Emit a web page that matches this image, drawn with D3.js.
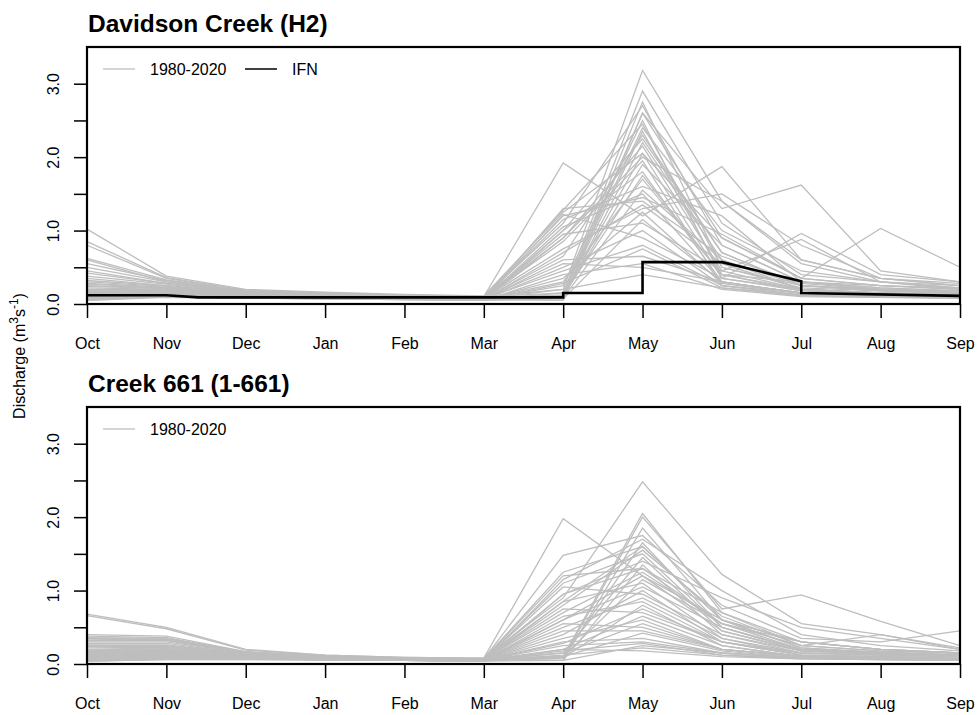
<!DOCTYPE html>
<html>
<head>
<meta charset="utf-8">
<script src="https://cdn.jsdelivr.net/npm/d3@7"></script>
<style>
  html, body { margin: 0; padding: 0; background: #ffffff; }
  svg { display: block; font-family: "Liberation Sans", Arial, sans-serif; }
</style>
</head>
<body>
<svg id="chart" width="979" height="715"></svg>
<script>
// Water-year months (Oct to Sep)
const months = ["Oct","Nov","Dec","Jan","Feb","Mar","Apr","May","Jun","Jul","Aug","Sep"];
const yTicks = [0, 0.5, 1, 1.5, 2, 2.5, 3];

// Davidson Creek (H2): monthly mean discharge, one row per water year 1980-2020
const davidsonFlows = [
  [1.02,0.38,0.20,0.16,0.13,0.11,1.25,2.05,0.90,0.35,0.25,0.22],
  [0.85,0.36,0.19,0.15,0.12,0.10,0.20,3.18,1.40,0.55,0.30,0.25],
  [0.80,0.35,0.18,0.14,0.12,0.10,1.92,1.20,1.87,0.60,0.35,0.28],
  [0.62,0.33,0.18,0.14,0.12,0.10,0.15,2.90,1.10,0.40,0.30,0.22],
  [0.60,0.30,0.17,0.14,0.12,0.10,1.10,2.70,0.80,0.30,0.20,0.18],
  [0.55,0.32,0.17,0.13,0.11,0.09,0.12,2.60,1.30,1.62,0.45,0.30],
  [0.50,0.30,0.16,0.13,0.11,0.09,1.28,2.45,0.50,0.25,0.18,0.15],
  [0.45,0.28,0.16,0.13,0.11,0.09,0.10,2.35,0.40,0.30,0.25,0.20],
  [0.42,0.28,0.15,0.12,0.10,0.09,1.20,1.45,0.95,0.35,1.03,0.50],
  [0.38,0.27,0.15,0.12,0.10,0.09,0.08,2.20,0.60,0.20,0.15,0.12],
  [0.35,0.25,0.15,0.12,0.10,0.08,1.00,1.80,0.30,0.15,0.12,0.10],
  [0.32,0.25,0.14,0.12,0.10,0.08,0.90,2.15,0.45,0.20,0.15,0.13],
  [0.30,0.24,0.14,0.12,0.10,0.08,0.10,2.05,0.35,0.96,0.40,0.30],
  [0.28,0.23,0.14,0.11,0.10,0.08,1.15,1.60,1.20,0.30,0.22,0.18],
  [0.27,0.22,0.13,0.11,0.10,0.08,0.85,1.95,0.25,0.15,0.12,0.10],
  [0.25,0.22,0.13,0.11,0.09,0.08,0.12,2.75,0.50,0.22,0.18,0.15],
  [0.24,0.21,0.13,0.11,0.09,0.08,0.75,1.30,1.50,0.80,0.35,0.25],
  [0.22,0.20,0.13,0.11,0.09,0.07,0.65,2.30,0.70,0.25,0.20,0.16],
  [0.20,0.20,0.12,0.10,0.09,0.07,0.30,1.70,0.40,0.18,0.14,0.12],
  [0.19,0.19,0.12,0.10,0.09,0.07,0.55,0.50,0.30,0.15,0.12,0.10],
  [0.18,0.18,0.12,0.10,0.09,0.07,0.95,1.10,0.45,0.88,0.30,0.20],
  [0.17,0.18,0.12,0.10,0.08,0.07,0.25,2.50,0.35,0.20,0.15,0.12],
  [0.16,0.17,0.12,0.10,0.08,0.07,0.45,0.80,0.25,0.12,0.10,0.08],
  [0.15,0.17,0.11,0.10,0.08,0.07,1.05,1.50,0.30,0.15,0.12,0.10],
  [0.14,0.16,0.11,0.10,0.08,0.07,0.10,1.90,0.80,0.30,0.22,0.18],
  [0.13,0.15,0.11,0.09,0.08,0.07,0.20,0.40,0.22,0.12,0.10,0.08],
  [0.12,0.15,0.11,0.09,0.08,0.06,0.70,1.35,0.55,0.20,0.15,0.12],
  [0.12,0.14,0.10,0.09,0.08,0.06,0.05,2.60,0.90,0.35,0.25,0.20],
  [0.11,0.14,0.10,0.09,0.08,0.06,1.22,0.90,0.35,0.18,0.14,0.11],
  [0.10,0.13,0.10,0.09,0.07,0.06,0.35,1.25,0.28,0.14,0.12,0.10],
  [0.10,0.13,0.10,0.09,0.07,0.06,0.08,1.55,0.60,0.25,0.20,0.15],
  [0.09,0.12,0.10,0.08,0.07,0.06,0.60,0.65,0.30,0.15,0.12,0.10],
  [0.09,0.12,0.10,0.08,0.07,0.06,0.15,2.40,1.00,0.45,0.30,0.22],
  [0.08,0.12,0.09,0.08,0.07,0.06,0.50,1.00,0.25,0.12,0.10,0.09],
  [0.08,0.11,0.09,0.08,0.07,0.06,1.30,1.40,0.65,0.28,0.20,0.15],
  [0.07,0.11,0.09,0.08,0.07,0.06,0.12,1.75,0.40,0.20,0.15,0.12],
  [0.07,0.10,0.09,0.08,0.07,0.05,0.40,0.55,0.20,0.10,0.09,0.08],
  [0.06,0.10,0.09,0.08,0.07,0.05,0.90,2.00,1.40,0.60,0.35,0.25],
  [0.06,0.10,0.08,0.07,0.06,0.05,0.07,1.15,0.30,0.15,0.12,0.10],
  [0.05,0.10,0.08,0.07,0.06,0.05,0.28,0.75,0.22,0.11,0.09,0.08],
  [0.05,0.09,0.08,0.07,0.06,0.05,1.00,2.25,0.70,0.25,0.18,0.14]
];

// Instream flow needs for Davidson Creek (position along the month axis, flow)
const ifnPos  = [0,    1,    1.4,  5,    6,    6,    7,    7,    8,    9,    9,    11];
const ifnFlow = [0.12, 0.12, 0.09, 0.09, 0.09, 0.15, 0.15, 0.57, 0.57, 0.31, 0.15, 0.11];

// Creek 661 (1-661): monthly mean discharge, one row per water year 1980-2020
const creek661Flows = [
  [0.68,0.50,0.20,0.12,0.09,0.08,1.98,1.20,0.60,0.30,0.20,0.15],
  [0.66,0.48,0.19,0.12,0.09,0.08,0.90,2.48,1.22,0.55,0.40,0.20],
  [0.40,0.38,0.17,0.11,0.08,0.07,1.48,1.75,0.80,0.35,0.30,0.45],
  [0.38,0.36,0.16,0.11,0.08,0.07,0.10,2.05,0.70,0.25,0.18,0.15],
  [0.36,0.35,0.16,0.11,0.08,0.07,1.25,1.60,0.60,0.30,0.20,0.15],
  [0.35,0.34,0.16,0.10,0.08,0.07,0.08,2.00,0.75,0.94,0.58,0.25],
  [0.34,0.33,0.15,0.10,0.08,0.07,1.20,1.30,0.55,0.25,0.18,0.14],
  [0.32,0.32,0.15,0.10,0.08,0.07,1.10,1.50,0.50,0.20,0.16,0.12],
  [0.30,0.30,0.15,0.10,0.08,0.07,0.05,1.85,0.60,0.22,0.15,0.12],
  [0.28,0.28,0.14,0.10,0.08,0.06,1.05,0.95,0.40,0.18,0.14,0.12],
  [0.26,0.26,0.14,0.10,0.08,0.06,0.95,1.40,0.90,0.50,0.35,0.20],
  [0.25,0.25,0.14,0.10,0.07,0.06,0.10,1.65,0.50,0.20,0.15,0.12],
  [0.24,0.24,0.13,0.10,0.07,0.06,0.85,1.10,0.35,0.15,0.12,0.10],
  [0.22,0.23,0.13,0.09,0.07,0.06,0.80,1.55,0.65,0.25,0.40,0.22],
  [0.20,0.22,0.13,0.09,0.07,0.06,0.15,1.45,0.45,0.18,0.14,0.10],
  [0.19,0.21,0.12,0.09,0.07,0.06,0.75,0.70,0.30,0.15,0.12,0.10],
  [0.18,0.20,0.12,0.09,0.07,0.06,0.70,1.25,0.55,0.20,0.15,0.12],
  [0.17,0.19,0.12,0.09,0.07,0.06,0.05,1.35,0.40,0.15,0.12,0.10],
  [0.16,0.18,0.12,0.09,0.07,0.05,0.65,0.85,0.30,0.12,0.10,0.08],
  [0.15,0.17,0.11,0.09,0.07,0.05,0.60,1.20,0.45,0.18,0.14,0.10],
  [0.14,0.16,0.11,0.08,0.07,0.05,0.55,0.50,0.20,0.10,0.08,0.07],
  [0.13,0.15,0.11,0.08,0.07,0.05,0.10,1.15,0.55,0.30,0.20,0.15],
  [0.12,0.14,0.11,0.08,0.06,0.05,0.50,0.90,0.35,0.12,0.10,0.08],
  [0.12,0.14,0.10,0.08,0.06,0.05,0.45,0.45,0.20,0.10,0.08,0.07],
  [0.11,0.13,0.10,0.08,0.06,0.05,0.40,1.00,0.30,0.12,0.10,0.08],
  [0.10,0.12,0.10,0.08,0.06,0.05,0.08,0.80,0.25,0.10,0.08,0.07],
  [0.10,0.12,0.10,0.08,0.06,0.05,0.35,0.60,0.20,0.10,0.08,0.07],
  [0.09,0.11,0.09,0.08,0.06,0.05,0.30,0.35,0.15,0.08,0.07,0.06],
  [0.09,0.11,0.09,0.07,0.06,0.05,0.28,0.75,0.30,0.12,0.09,0.07],
  [0.08,0.10,0.09,0.07,0.06,0.05,0.25,0.30,0.15,0.08,0.07,0.06],
  [0.08,0.10,0.09,0.07,0.06,0.05,0.20,0.65,0.25,0.10,0.08,0.07],
  [0.07,0.09,0.08,0.07,0.06,0.05,0.18,0.28,0.12,0.08,0.07,0.06],
  [0.07,0.09,0.08,0.07,0.06,0.05,0.15,0.55,0.20,0.10,0.08,0.06],
  [0.06,0.08,0.08,0.07,0.06,0.05,0.12,0.22,0.12,0.07,0.06,0.05],
  [0.06,0.08,0.08,0.07,0.05,0.04,0.10,0.42,0.18,0.08,0.07,0.06],
  [0.05,0.08,0.07,0.06,0.05,0.04,1.15,1.70,1.00,0.40,0.25,0.18],
  [0.05,0.07,0.07,0.06,0.05,0.04,0.95,1.30,0.70,0.30,0.20,0.15],
  [0.05,0.07,0.07,0.06,0.05,0.04,0.20,0.18,0.10,0.07,0.06,0.05],
  [0.04,0.07,0.07,0.06,0.05,0.04,0.60,1.05,0.50,0.18,0.13,0.10],
  [0.04,0.06,0.06,0.06,0.05,0.04,0.85,1.60,0.60,0.22,0.16,0.12],
  [0.04,0.06,0.06,0.05,0.05,0.04,0.05,0.25,0.15,0.08,0.06,0.05]
];

const svg = d3.select("#chart");
const left = 87, right = 960;
const grey = "#bebebe";

const x = d3.scaleLinear().domain([0, months.length - 1]).range([left, right]);

function drawPanel(cfg) {
  const y = d3.scaleLinear().domain([0, 3.5]).range([cfg.bottom, cfg.top]);
  const g = svg.append("g");

  const line = d3.line().x((d, i) => x(i)).y(d => y(d));

  // yearly hydrographs
  g.append("g")
    .selectAll("path")
    .data(cfg.flows)
    .join("path")
    .attr("d", line)
    .attr("fill", "none")
    .attr("stroke", grey)
    .attr("stroke-width", 1.3)
    .attr("stroke-linejoin", "miter");

  // instream flow needs
  if (cfg.ifn) {
    const ifnLine = d3.line().x(d => x(d[0])).y(d => y(d[1]));
    g.append("path")
      .datum(d3.zip(cfg.ifn.pos, cfg.ifn.flow))
      .attr("d", ifnLine)
      .attr("fill", "none")
      .attr("stroke", "#000")
      .attr("stroke-width", 2.6)
      .attr("stroke-linejoin", "miter");
  }

  // plot frame
  g.append("rect")
    .attr("x", left).attr("y", cfg.top)
    .attr("width", right - left).attr("height", cfg.bottom - cfg.top)
    .attr("fill", "none").attr("stroke", "#000").attr("stroke-width", 2.2);

  // x axis
  const xa = g.append("g")
    .attr("transform", `translate(0,${cfg.bottom})`)
    .call(d3.axisBottom(x).tickValues(d3.range(months.length))
      .tickFormat(i => months[i]).tickSize(14).tickPadding(0));
  xa.select(".domain").remove();
  xa.selectAll(".tick line").attr("stroke", "#000").attr("stroke-width", 1.5);
  xa.selectAll(".tick text")
    .attr("y", 45).attr("dy", null)
    .attr("font-size", 16).attr("font-family", "Liberation Sans, Arial, sans-serif")
    .attr("fill", "#000");

  // y axis (labels on whole numbers only, written vertically)
  const ya = g.append("g")
    .attr("transform", `translate(${left},0)`)
    .call(d3.axisLeft(y).tickValues(yTicks)
      .tickFormat(v => Number.isInteger(v) ? d3.format(".1f")(v) : "")
      .tickSize(13));
  ya.select(".domain").remove();
  ya.selectAll(".tick line").attr("stroke", "#000").attr("stroke-width", 1.5);
  ya.selectAll(".tick text")
    .attr("x", null).attr("dy", null)
    .attr("transform", "translate(-28,0) rotate(-90)")
    .attr("text-anchor", "middle")
    .attr("font-size", 16).attr("font-family", "Liberation Sans, Arial, sans-serif")
    .attr("fill", "#000");

  // title
  svg.append("text")
    .attr("x", left + 1).attr("y", cfg.top - 15)
    .attr("font-size", 24.5).attr("font-weight", "bold")
    .attr("font-family", "Liberation Sans, Arial, sans-serif")
    .text(cfg.title);

  // legend
  const ly = cfg.top + 22;
  const leg = svg.append("g").attr("font-size", 16)
    .attr("font-family", "Liberation Sans, Arial, sans-serif");
  cfg.legend.forEach(item => {
    leg.append("line")
      .attr("x1", item.x).attr("x2", item.x + 32)
      .attr("y1", ly).attr("y2", ly)
      .attr("stroke", item.color).attr("stroke-width", item.width);
    leg.append("text")
      .attr("x", item.x + 47).attr("y", ly + 6)
      .text(item.label);
  });
}

drawPanel({
  title: "Davidson Creek (H2)",
  top: 47, bottom: 304,
  flows: davidsonFlows,
  ifn: { pos: ifnPos, flow: ifnFlow },
  legend: [
    { x: 103, label: "1980-2020", color: grey, width: 1.3 },
    { x: 245, label: "IFN", color: "#000", width: 1.5 }
  ]
});

drawPanel({
  title: "Creek 661 (1-661)",
  top: 407, bottom: 664,
  flows: creek661Flows,
  ifn: null,
  legend: [
    { x: 103, label: "1980-2020", color: grey, width: 1.3 }
  ]
});

// shared y-axis title
const yt = svg.append("text")
  .attr("transform", "translate(25,356) rotate(-90)")
  .attr("text-anchor", "middle")
  .attr("font-size", 16)
  .attr("font-family", "Liberation Sans, Arial, sans-serif");
yt.append("tspan").text("Discharge (m");
yt.append("tspan").attr("font-size", 12).attr("dy", -7).text("3");
yt.append("tspan").attr("dy", 7).text("s");
yt.append("tspan").attr("font-size", 12).attr("dy", -7).text("-1");
yt.append("tspan").attr("dy", 7).text(")");
</script>
</body>
</html>
